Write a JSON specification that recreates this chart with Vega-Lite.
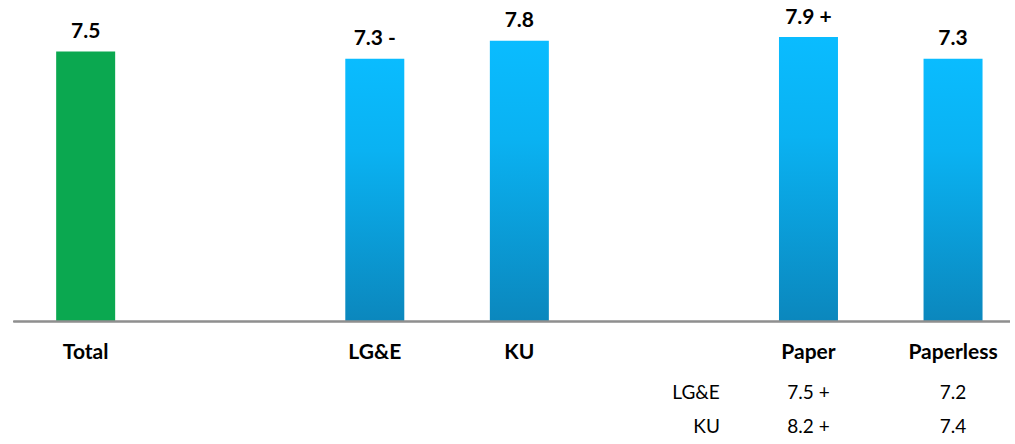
{
  "$schema": "https://vega.github.io/schema/vega-lite/v6.json",
  "width": 1015,
  "height": 444,
  "padding": 0,
  "autosize": {"type": "none"},
  "background": "white",
  "config": {"view": {"stroke": null}, "text": {"font": "Lato"}},
  "datasets": {
    "bars": [
      {"cat": "Total", "slot": 0, "value": 7.5, "label": "7.5", "group": "total"},
      {"cat": "LG&E", "slot": 2, "value": 7.3, "label": "7.3 -", "group": "company"},
      {"cat": "KU", "slot": 3, "value": 7.8, "label": "7.8", "group": "company"},
      {"cat": "Paper", "slot": 5, "value": 7.9, "label": "7.9 +", "group": "billing"},
      {"cat": "Paperless", "slot": 6, "value": 7.3, "label": "7.3", "group": "billing"}
    ],
    "table": [
      {"row": "LG&E", "col": "Paper", "slot": 5, "text": "7.5 +"},
      {"row": "LG&E", "col": "Paperless", "slot": 6, "text": "7.2"},
      {"row": "KU", "col": "Paper", "slot": 5, "text": "8.2 +"},
      {"row": "KU", "col": "Paperless", "slot": 6, "text": "7.4"}
    ]
  },
  "layer": [
    {
      "data": {"name": "bars"},
      "mark": {"type": "bar", "width": 59},
      "encoding": {
        "x": {"field": "slot", "type": "quantitative", "scale": {"domain": [-0.558, 6.394], "zero": false, "nice": false}, "axis": null},
        "y": {"field": "value", "type": "quantitative", "scale": {"domain": [-3.403, 8.931], "zero": false, "nice": false}, "axis": null},
        "y2": {"datum": 0},
        "fill": {
          "condition": {"test": "datum.group === 'total'", "value": "#0BA850"},
          "value": {
            "gradient": "linear", "x1": 0, "y1": 0, "x2": 0, "y2": 1,
            "stops": [
              {"offset": 0, "color": "#0ABCFF"},
              {"offset": 0.35, "color": "#0AB2F2"},
              {"offset": 1, "color": "#0B87BD"}
            ]
          }
        }
      }
    },
    {
      "data": {"name": "bars"},
      "mark": {"type": "rule", "stroke": "#8f8f8f", "strokeWidth": 1.6},
      "encoding": {
        "x": {"datum": -0.5, "type": "quantitative"},
        "x2": {"datum": 6.394},
        "y": {"datum": 0, "type": "quantitative"}
      }
    },
    {
      "data": {"name": "bars"},
      "mark": {"type": "text", "fontWeight": "bold", "fontSize": 21, "baseline": "alphabetic", "align": "center", "dy": -13.5, "color": "#000000"},
      "encoding": {
        "x": {"field": "slot", "type": "quantitative"},
        "y": {"field": "value", "type": "quantitative"},
        "text": {"field": "label"}
      }
    },
    {
      "data": {"name": "bars"},
      "mark": {"type": "text", "fontWeight": "bold", "fontSize": 21, "baseline": "alphabetic", "align": "center", "dy": 37.5, "color": "#000000"},
      "encoding": {
        "x": {"field": "slot", "type": "quantitative"},
        "y": {"datum": 0, "type": "quantitative"},
        "text": {"field": "cat"}
      }
    },
    {
      "data": {"name": "table"},
      "transform": [{"filter": "datum.row === 'LG&E'"}],
      "mark": {"type": "text", "fontSize": 19, "baseline": "alphabetic", "align": "center", "dy": 77.5, "color": "#000000"},
      "encoding": {
        "x": {"field": "slot", "type": "quantitative"},
        "y": {"datum": 0, "type": "quantitative"},
        "text": {"field": "text"}
      }
    },
    {
      "data": {"name": "table"},
      "transform": [{"filter": "datum.row === 'KU'"}],
      "mark": {"type": "text", "fontSize": 19, "baseline": "alphabetic", "align": "center", "dy": 111.5, "color": "#000000"},
      "encoding": {
        "x": {"field": "slot", "type": "quantitative"},
        "y": {"datum": 0, "type": "quantitative"},
        "text": {"field": "text"}
      }
    },
    {
      "data": {"name": "table"},
      "transform": [{"filter": "datum.row === 'LG&E' && datum.col === 'Paper'"}],
      "mark": {"type": "text", "fontSize": 19, "baseline": "alphabetic", "align": "right", "dy": 77.5, "color": "#000000"},
      "encoding": {
        "x": {"datum": 4.387, "type": "quantitative"},
        "y": {"datum": 0, "type": "quantitative"},
        "text": {"field": "row"}
      }
    },
    {
      "data": {"name": "table"},
      "transform": [{"filter": "datum.row === 'KU' && datum.col === 'Paper'"}],
      "mark": {"type": "text", "fontSize": 19, "baseline": "alphabetic", "align": "right", "dy": 111.5, "color": "#000000"},
      "encoding": {
        "x": {"datum": 4.387, "type": "quantitative"},
        "y": {"datum": 0, "type": "quantitative"},
        "text": {"field": "row"}
      }
    }
  ]
}
